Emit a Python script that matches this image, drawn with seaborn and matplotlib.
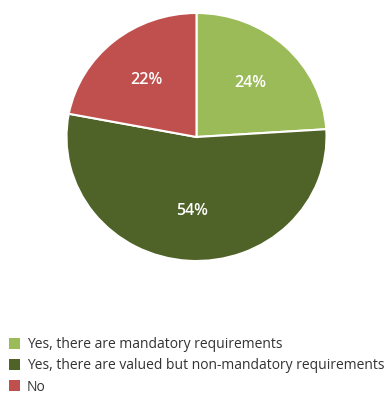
import matplotlib
matplotlib.use("Agg")
import matplotlib.pyplot as plt
from matplotlib.patches import Patch
import seaborn as sns

categories = [
    "Yes, there are mandatory requirements",
    "Yes, there are valued but non-mandatory requirements",
    "No",
]
shares = [24, 54, 22]
colors = ["#9BBB59", "#4F6228", "#C0504D"]

sns.set_theme(style="white")
plt.rcParams["font.family"] = ["Open Sans", "DejaVu Sans"]

fig = plt.figure(figsize=(3.9, 3.94), dpi=100)
ax = fig.add_axes([66.5 / 390, 133 / 394, 260 / 390, 248 / 394])

palette = sns.color_palette(colors)
wedges, texts, autotexts = ax.pie(
    shares,
    colors=palette,
    startangle=90,
    counterclock=False,
    autopct=lambda p: f"{p:.0f}%",
    pctdistance=0.6,
    wedgeprops=dict(edgecolor="white", linewidth=1.5),
    textprops=dict(color="white", fontsize=11.5, fontweight="semibold"),
)
ax.set_aspect("auto")
ax.set_xlim(-1, 1)
ax.set_ylim(-1, 1)
ax.axis("off")

handles = [Patch(facecolor=c, edgecolor="none") for c in colors]
fig.legend(
    handles,
    categories,
    loc="upper left",
    bbox_to_anchor=(3 / 390, 1 - 331.5 / 394),
    frameon=False,
    fontsize=10,
    handlelength=0.85,
    handleheight=0.85,
    handletextpad=0.45,
    labelspacing=0.45,
    borderaxespad=0,
    labelcolor="#333333",
)

fig.savefig("out.png", dpi=100)
